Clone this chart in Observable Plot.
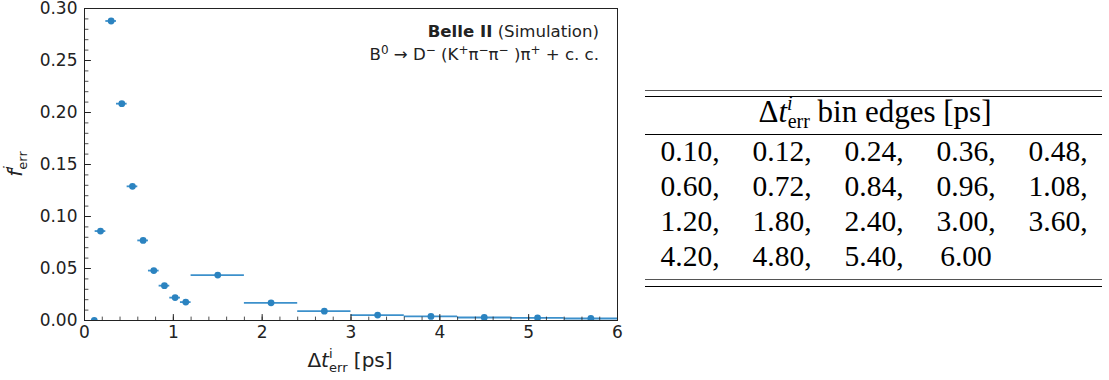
<!DOCTYPE html>
<html><head><meta charset="utf-8">
<script src="https://cdn.jsdelivr.net/npm/d3@7"></script>
<script src="https://cdn.jsdelivr.net/npm/@observablehq/plot@0.6"></script>
<style>
body{margin:0;background:#fff;}
#wrap{position:relative;width:1109px;height:380px;overflow:hidden;background:#fff;}
#chart{position:absolute;left:0;top:0;}
#table{position:absolute;left:0;top:0;pointer-events:none;}
</style></head><body><div id="wrap"><div id="chart"></div><svg id="table" width="1109" height="380"></svg></div>
<script>
// ---- data ----
const binEdges = [0.10, 0.12, 0.24, 0.36, 0.48, 0.60, 0.72, 0.84, 0.96, 1.08,
                  1.20, 1.80, 2.40, 3.00, 3.60, 4.20, 4.80, 5.40, 6.00];
const fractions = [0.0, 0.086, 0.288, 0.2085, 0.129, 0.077, 0.048, 0.0335, 0.022,
                   0.0177, 0.0437, 0.017, 0.009, 0.0052, 0.0039, 0.0029, 0.0026, 0.0019];
const xTicks = [0, 1, 2, 3, 4, 5, 6];
const yTicks = [0.00, 0.05, 0.10, 0.15, 0.20, 0.25, 0.30];
const xMinor = d3.range(0, 6.0001, 0.2);
const yMinor = d3.range(0, 0.3001, 0.01);

const data = fractions.map((f, i) => ({
  lo: binEdges[i], hi: binEdges[i + 1], x: (binEdges[i] + binEdges[i + 1]) / 2, f
}));

const dotBlue = "#2b83c0", lineBlue = "#3c90cb", ink = "#222";
const tickShape = {draw(ctx, l) { ctx.moveTo(0, 0); ctx.lineTo(0, -l); }};

const plot = Plot.plot({
  width: 630, height: 380,
  marginLeft: 84, marginRight: 13, marginTop: 8, marginBottom: 60,
  style: {fontFamily: "DejaVu Sans", fontSize: "17px", color: ink, background: "white", overflow: "visible"},
  x: {domain: [0, 6]},
  y: {domain: [0, 0.30]},
  marks: [
    Plot.ruleY(data, {x1: "lo", x2: "hi", y: "f", stroke: lineBlue, strokeWidth: 1.8, clip: true}),
    Plot.dot(data, {x: "x", y: "f", r: 3.4, fill: dotBlue, clip: true}),
    Plot.frame({stroke: ink, strokeWidth: 1}),
    Plot.axisX(xTicks, {tickSize: 0, tickPadding: 5, label: null, tickFormat: d => String(d), fontSize: 17}),
    Plot.axisY(yTicks, {tickSize: 0, tickPadding: 7, label: null, tickFormat: d3.format(".2f"), fontSize: 17}),
    Plot.vector(xTicks, {x: d => d, frameAnchor: "bottom", length: 6, rotate: 0, anchor: "start", shape: tickShape, stroke: ink, strokeWidth: 1}),
    Plot.vector(xMinor, {x: d => d, frameAnchor: "bottom", length: 3.5, rotate: 0, anchor: "start", shape: tickShape, stroke: ink, strokeWidth: 0.8}),
    Plot.vector(yTicks, {y: d => d, frameAnchor: "left", length: 6, rotate: 90, anchor: "start", shape: tickShape, stroke: ink, strokeWidth: 1}),
    Plot.vector(yMinor, {y: d => d, frameAnchor: "left", length: 3.5, rotate: 90, anchor: "start", shape: tickShape, stroke: ink, strokeWidth: 0.8})
  ]
});
document.getElementById("chart").appendChild(plot);

// ---- rich text helper ----
function rich(textSel, segs) {
  let cur = 0;
  for (const s of segs) {
    const shift = s.shift || 0;
    const ts = textSel.append("tspan").text(s.t).attr("dy", shift - cur);
    cur = shift;
    if (s.size) ts.attr("font-size", s.size);
    if (s.italic) ts.attr("font-style", "italic");
    if (s.bold) ts.attr("font-weight", "bold");
    if (s.dx) ts.attr("dx", s.dx);
  }
}

const svg = d3.select(plot);
// y label
const yl = svg.append("text")
  .attr("transform", "translate(22,164) rotate(-90)")
  .attr("text-anchor", "middle").attr("font-family", "DejaVu Sans").attr("font-size", 20).attr("fill", ink);
rich(yl, [
  {t: "f", italic: true},
  {t: "i", italic: true, size: 13, shift: -9},
  {t: "err", size: 13, shift: 5, dx: -3.5}
]);
// x label
const xl = svg.append("text")
  .attr("x", 350).attr("y", 367)
  .attr("text-anchor", "middle").attr("font-family", "DejaVu Sans").attr("font-size", 20).attr("fill", ink);
rich(xl, [
  {t: "Δ"},
  {t: "t", italic: true},
  {t: "i", size: 13, shift: -9},
  {t: "err", size: 13, shift: 5, dx: -3.5},
  {t: " [ps]", shift: 0}
]);
// annotation
const a1 = svg.append("text").attr("x", 599).attr("y", 37).attr("text-anchor", "end")
  .attr("font-family", "DejaVu Sans").attr("font-size", 16.6).attr("fill", ink);
rich(a1, [{t: "Belle II", bold: true}, {t: " (Simulation)"}]);
const a2 = svg.append("text").attr("x", 599).attr("y", 60).attr("text-anchor", "end")
  .attr("font-family", "DejaVu Sans").attr("font-size", 16.6).attr("fill", ink);
const sup = (t) => ({t, size: 12, shift: -6});
const nor = (t) => ({t, shift: 0});
rich(a2, [nor("B"), sup("0"), nor(" → D"), sup("−"), nor(" (K"), sup("+"), nor("π"), sup("−"),
          nor("π"), sup("−"), nor(" )π"), sup("+"), nor(" + c. c.")]);

// ---- table ----
const tbl = d3.select("#table");
const tx0 = 645, tx1 = 1102;
const rules = [
  {y: 90.5, c: "#555"}, {y: 96.5, c: "#000"}, {y: 134.5, c: "#000"},
  {y: 279.5, c: "#555"}, {y: 286.5, c: "#000"}
];
tbl.selectAll("line.r").data(rules).join("line")
  .attr("x1", tx0).attr("x2", tx1).attr("y1", d => d.y).attr("y2", d => d.y)
  .attr("stroke", d => d.c).attr("stroke-width", 1.2);
const serif = "Liberation Serif";
const th = tbl.append("text").attr("x", 875).attr("y", 121.5).attr("text-anchor", "middle")
  .attr("font-family", serif).attr("font-size", 31).attr("fill", "#000");
rich(th, [
  {t: "Δ"},
  {t: "t", italic: true},
  {t: "i", italic: true, size: 20, shift: -12},
  {t: "err", size: 20, shift: 6, dx: -5},
  {t: " bin edges [ps]", shift: 0}
]);
const fmt = d3.format(".2f");
tbl.selectAll("text.cell").data(binEdges).join("text")
  .attr("class", "cell")
  .attr("x", (d, i) => 690 + (i % 5) * 92)
  .attr("y", (d, i) => 161 + Math.floor(i / 5) * 35)
  .attr("text-anchor", "middle")
  .attr("font-family", serif).attr("font-size", 29.5).attr("fill", "#000")
  .text((d, i) => fmt(d) + (i < binEdges.length - 1 ? "," : ""));
</script>
</body></html>
